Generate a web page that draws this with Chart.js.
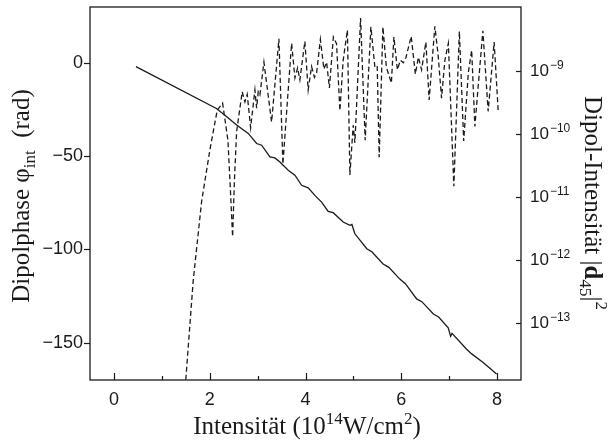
<!DOCTYPE html>
<html>
<head>
<meta charset="utf-8">
<script src="https://cdn.jsdelivr.net/npm/chart.js@4.4.0/dist/chart.umd.min.js"></script>
<style>
  html, body { margin: 0; padding: 0; background: #fff; }
  canvas { display: block; }
</style>
</head>
<body>
<canvas id="chart" width="613" height="441"></canvas>
<script>
// Dipolphase (solid line, left axis, rad)
const phaseX = [0.46, 2.14, 2.317, 2.562, 2.804, 2.979, 3.084, 3.257, 3.361, 3.466, 3.639, 3.779, 3.919,
  4.056, 4.196, 4.336, 4.474, 4.578, 4.787, 4.927, 4.969, 5.031, 5.28, 5.39, 5.62, 5.74, 5.97, 6.09,
  6.32, 6.43, 6.67, 6.78, 6.98, 7.03, 7.06, 7.36, 7.47, 7.71, 7.99];
const phaseY = [-2.0, -24.4, -28.0, -33.3, -37.8, -43.2, -44.1, -50.4, -50.9, -53.1, -57.5, -60.2, -65.6,
  -67.0, -71.0, -74.6, -79.6, -80.3, -85.3, -87.1, -86.6, -91.6, -99.6, -101.4, -107.8, -109.6, -115.9, -118.5,
  -126.5, -128.0, -134.6, -136.2, -142.0, -146.5, -145.0, -153.4, -156.0, -160.6, -166.8];

// Dipol-Intensität (dashed line, right log axis), stored as exponent of 10
const intensX = [1.50, 1.656, 1.831, 2.004, 2.157, 2.269, 2.380, 2.432, 2.478, 2.516, 2.562, 2.678, 2.735, 2.783,
  2.854, 2.944, 2.979, 3.013, 3.048, 3.132, 3.292, 3.445, 3.528, 3.639, 3.710, 3.779, 3.835, 3.883,
  3.987, 4.056, 4.127, 4.186, 4.232, 4.311, 4.384, 4.441, 4.499, 4.582, 4.649, 4.718, 4.787, 4.875,
  4.927, 4.996, 5.031, 5.150, 5.246, 5.365, 5.449, 5.497, 5.539, 5.616, 5.689, 5.793, 5.846, 5.919,
  5.981, 6.044, 6.096, 6.207, 6.294, 6.357, 6.424, 6.514, 6.582, 6.701, 6.770, 6.841, 6.910, 6.983,
  7.098, 7.213, 7.303, 7.401, 7.470, 7.537, 7.605, 7.704, 7.814, 7.939, 8.023];
const intensExp = [-13.9, -12.32, -11.07, -10.25, -9.62, -9.51, -10.10, -10.89, -11.63, -10.73, -9.96, -9.33, -9.49, -9.37,
  -9.90, -9.30, -9.59, -9.33, -9.38, -8.86, -9.81, -8.49, -10.48, -9.30, -8.56, -9.11, -8.95, -9.14,
  -8.53, -9.30, -8.93, -9.10, -9.03, -8.50, -8.97, -8.86, -9.27, -8.46, -8.57, -9.63, -8.83, -8.35,
  -10.65, -9.86, -10.14, -8.16, -10.10, -8.30, -8.94, -8.92, -10.37, -8.30, -8.94, -9.19, -8.46, -8.98,
  -8.83, -8.87, -8.79, -8.45, -9.05, -8.78, -8.98, -8.54, -9.46, -8.29, -8.75, -9.43, -8.83, -8.56,
  -10.83, -8.37, -10.11, -9.02, -8.67, -9.88, -9.25, -8.36, -9.64, -8.54, -9.62];

// tick values
const xTicks = [0, 1, 2, 3, 4, 5, 6, 7, 8];
const phaseTicks = [0, -50, -100, -150];
const intensTickExp = [-9, -10, -11, -12, -13];

const ink = '#1a1a1a';
const tickFont = "'Liberation Sans Narrow', 'Liberation Sans', Arial, sans-serif";
const titleFont = "'Liberation Serif', 'Times New Roman', serif";

// draw a run of text pieces (normal / sub / sup) starting at x along the baseline
function drawRich(ctx, pieces, x, y, size) {
  let cx = x;
  pieces.forEach(p => {
    const s = p.mode ? Math.round(size * 0.68) : size;
    ctx.font = (p.bold ? 'bold ' : '') + s + 'px ' + titleFont;
    let dy = 0;
    if (p.mode === 'sup') dy = -size * 0.42;
    if (p.mode === 'sub') dy = size * 0.22;
    ctx.fillText(p.t, cx, y + dy);
    cx += ctx.measureText(p.t).width;
  });
  return cx - x;
}

function richWidth(ctx, pieces, size) {
  let w = 0;
  pieces.forEach(p => {
    const s = p.mode ? Math.round(size * 0.68) : size;
    ctx.font = (p.bold ? 'bold ' : '') + s + 'px ' + titleFont;
    w += ctx.measureText(p.t).width;
  });
  return w;
}

// keep the plot area fixed: no extra room for overhanging labels
function noPad(scale) {
  scale.paddingTop = 0;
  scale.paddingBottom = 0;
  scale.paddingLeft = 0;
  scale.paddingRight = 0;
}

const decorPlugin = {
  id: 'decor',
  afterDraw(chart) {
    const ctx = chart.ctx;
    const area = chart.chartArea;
    const xs = chart.scales.x, ys = chart.scales.y, y2 = chart.scales.y2;
    ctx.save();
    ctx.strokeStyle = ink;
    ctx.fillStyle = ink;

    // frame
    ctx.lineWidth = 1.3;
    ctx.strokeRect(area.left, area.top, area.right - area.left, area.bottom - area.top);

    // bottom ticks, pointing inward
    ctx.lineWidth = 1.2;
    xTicks.forEach(v => {
      const px = Math.round(xs.getPixelForValue(v)) + 0.5;
      const len = v % 2 === 0 ? 7 : 4;
      ctx.beginPath();
      ctx.moveTo(px, area.bottom);
      ctx.lineTo(px, area.bottom - len);
      ctx.stroke();
    });

    // left ticks, pointing outward
    phaseTicks.forEach(v => {
      const py = Math.round(ys.getPixelForValue(v)) + 0.5;
      ctx.beginPath();
      ctx.moveTo(area.left - 6, py);
      ctx.lineTo(area.left, py);
      ctx.stroke();
    });

    // right ticks, inward, with 10^n labels
    intensTickExp.forEach(e => {
      const py = Math.round(y2.getPixelForValue(Math.pow(10, e))) + 0.5;
      ctx.beginPath();
      ctx.moveTo(area.right - 5, py);
      ctx.lineTo(area.right, py);
      ctx.stroke();
      ctx.textBaseline = 'middle';
      ctx.textAlign = 'left';
      ctx.font = '17px ' + tickFont;
      ctx.fillText('10', area.right + 9, py);
      const w = ctx.measureText('10').width;
      ctx.font = '12px ' + tickFont;
      ctx.fillText('\u2212' + Math.abs(e), area.right + 10 + w, py - 6);
    });

    // axis titles
    ctx.textBaseline = 'alphabetic';
    ctx.textAlign = 'left';
    const size = 25;

    const bottomTitle = [
      { t: 'Intensität (10' }, { t: '14', mode: 'sup' }, { t: 'W/cm' }, { t: '2', mode: 'sup' }, { t: ')' }
    ];
    const bw = richWidth(ctx, bottomTitle, size);
    drawRich(ctx, bottomTitle, 307 - bw / 2, 434, size);

    const leftTitle = [
      { t: 'Dipolphase φ' }, { t: 'int', mode: 'sub' }, { t: '  (rad)' }
    ];
    const lw = richWidth(ctx, leftTitle, size);
    ctx.save();
    ctx.translate(29, 196);
    ctx.rotate(-Math.PI / 2);
    drawRich(ctx, leftTitle, -lw / 2, 0, size);
    ctx.restore();

    const rightTitle = [
      { t: 'Dipol-Intensität |' }, { t: 'd', bold: true }, { t: '45', mode: 'sub' }, { t: '|' }, { t: '2', mode: 'sup' }
    ];
    const rw = richWidth(ctx, rightTitle, size);
    ctx.save();
    ctx.translate(585, 203);
    ctx.rotate(Math.PI / 2);
    drawRich(ctx, rightTitle, -rw / 2, 0, size);
    ctx.restore();

    ctx.restore();
  }
};

const phaseData = phaseX.map((x, i) => ({ x: x, y: phaseY[i] }));
const intensData = intensX.map((x, i) => ({ x: x, y: Math.pow(10, intensExp[i]) }));

new Chart(document.getElementById('chart'), {
  type: 'line',
  data: {
    datasets: [
      {
        label: 'Dipolphase',
        data: phaseData,
        yAxisID: 'y',
        borderColor: ink,
        borderWidth: 1.3,
        pointRadius: 0,
        tension: 0,
        fill: false
      },
      {
        label: 'Dipol-Intensität',
        data: intensData,
        yAxisID: 'y2',
        borderColor: ink,
        borderWidth: 1.3,
        borderDash: [5, 3],
        pointRadius: 0,
        tension: 0,
        fill: false
      }
    ]
  },
  options: {
    responsive: false,
    animation: false,
    devicePixelRatio: 1,
    layout: { padding: { top: 7, left: 0, right: 0, bottom: 0 } },
    plugins: {
      legend: { display: false },
      tooltip: { enabled: false }
    },
    scales: {
      x: {
        type: 'linear',
        position: 'bottom',
        min: -0.5,
        max: 8.5,
        grid: { display: false, drawTicks: false },
        border: { display: false },
        afterBuildTicks: scale => { scale.ticks = xTicks.map(v => ({ value: v })); },
        afterFit: scale => { scale.height = 61; noPad(scale); },
        ticks: {
          color: ink,
          padding: 9,
          maxRotation: 0,
          autoSkip: false,
          font: { family: tickFont, size: 18 },
          callback: v => (v % 2 === 0 ? String(v) : '')
        }
      },
      y: {
        type: 'linear',
        position: 'left',
        min: -170,
        max: 30,
        grid: { display: false, drawTicks: false },
        border: { display: false },
        afterBuildTicks: scale => { scale.ticks = phaseTicks.map(v => ({ value: v })); },
        afterFit: scale => { scale.width = 90; noPad(scale); },
        ticks: {
          color: ink,
          padding: 7,
          font: { family: tickFont, size: 18 },
          callback: v => (v < 0 ? '\u2212' + Math.abs(v) : String(v))
        }
      },
      y2: {
        type: 'logarithmic',
        position: 'right',
        bounds: 'data',
        min: Math.pow(10, -13.905),
        max: Math.pow(10, -7.984),
        grid: { display: false, drawTicks: false },
        border: { display: false },
        afterFit: scale => { scale.width = 92; noPad(scale); },
        afterBuildTicks: scale => {
          scale.min = Math.pow(10, -13.905);
          scale.max = Math.pow(10, -7.984);
        },
        ticks: { display: false }
      }
    }
  },
  plugins: [decorPlugin]
});
</script>
</body>
</html>
